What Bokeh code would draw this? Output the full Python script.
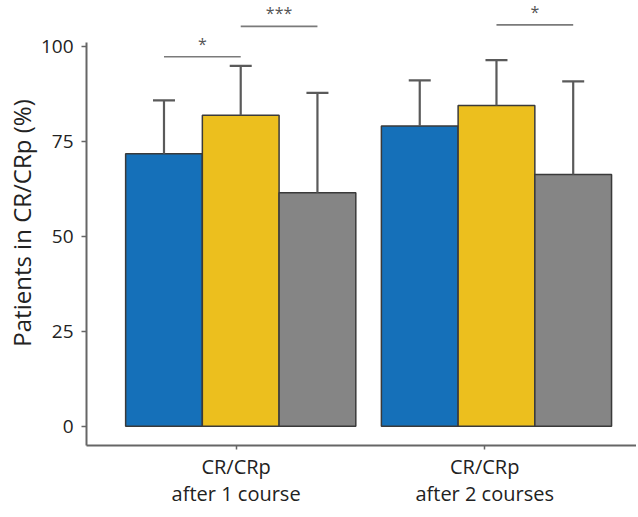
from bokeh.plotting import figure
from bokeh.models import ColumnDataSource, FixedTicker, Whisker, TeeHead, Range1d
from bokeh.core.properties import value
from bokeh.embed import file_html
from bokeh.resources import INLINE

# ---- data ----
group_labels = ["CR/CRp\nafter 1 course", "CR/CRp\nafter 2 courses"]
group_pos = [1, 2]
blue_vals = [71.7, 79.0]
yellow_vals = [81.8, 84.4]
gray_vals = [61.4, 66.2]
blue_upper = [85.7, 91.0]
yellow_upper = [94.8, 96.3]
gray_upper = [87.7, 90.7]
sig_group = [0, 0, 1]
sig_from = [0, 1, 1]
sig_to = [1, 2, 2]
sig_height = [97.2, 105.2, 105.6]
sig_text = ["*", "***", "*"]
y_ticks = [0, 25, 50, 75, 100]

# ---- layout constants ----
offsets = [-0.3, 0.0, 0.3]
bar_w = 0.3
tick_pos = [0.982, 1.954]
colors = ["#1570b9", "#ecbf1e", "#858585"]
FONT = "Open Sans"

p = figure(width=636, height=515, output_backend="svg", toolbar_location=None,
           x_range=Range1d(0.397, 2.5475), y_range=Range1d(-5.08, 112.0),
           min_border_left=86, min_border_right=0, min_border_top=0, min_border_bottom=70)
p.outline_line_color = None
p.xgrid.visible = False
p.ygrid.visible = False
p.background_fill_color = "white"
p.border_fill_color = "white"

series_vals = [blue_vals, yellow_vals, gray_vals]
series_upper = [blue_upper, yellow_upper, gray_upper]
for i, (vals, ups) in enumerate(zip(series_vals, series_upper)):
    xs = [g + offsets[i] for g in group_pos]
    src = ColumnDataSource(dict(x=xs, top=vals, upper=ups))
    p.vbar(x="x", top="top", bottom=0, width=bar_w, source=src,
           fill_color=colors[i], line_color="#3a3a3a", line_width=1.5)
    w = Whisker(base="x", lower="top", upper="upper", source=src,
                line_color="#5a5a5a", line_width=2.2, level="overlay",
                upper_head=TeeHead(size=22, line_color="#5a5a5a", line_width=2.2),
                lower_head=None)
    p.add_layout(w)

# significance lines
x0 = [group_pos[g] + offsets[a] for g, a in zip(sig_group, sig_from)]
x1 = [group_pos[g] + offsets[b] for g, b in zip(sig_group, sig_to)]
p.segment(x0=x0, x1=x1, y0=sig_height, y1=sig_height, line_color="#7a7a7a", line_width=1.6)
xm = [(a + b) / 2 for a, b in zip(x0, x1)]
p.text(x=xm, y=sig_height, text=sig_text, text_align="center", text_baseline="middle",
       y_offset=-13, text_font_size="16px", text_color="#555555", text_font=value(FONT))

# axes
yax = p.yaxis[0]
yax.ticker = FixedTicker(ticks=y_ticks)
yax.bounds = (-5.08, 101)
yax.axis_label = "Patients in CR/CRp (%)"
yax.axis_label_text_font = FONT
yax.axis_label_text_font_style = "normal"
yax.axis_label_text_font_size = "24px"
yax.axis_label_text_color = "#222222"
yax.axis_label_standoff = 0
yax.major_label_text_font = FONT
yax.major_label_text_font_size = "19px"
yax.major_label_text_color = "#222222"
yax.major_label_standoff = 8
yax.axis_line_color = "#666666"
yax.axis_line_width = 2
yax.major_tick_line_color = "#666666"
yax.major_tick_line_width = 1.5
yax.major_tick_out = 5
yax.major_tick_in = 0
yax.minor_tick_line_color = None

xax = p.xaxis[0]
xax.ticker = FixedTicker(ticks=tick_pos)
xax.major_label_overrides = {t: lab for t, lab in zip(tick_pos, group_labels)}
xax.major_label_text_font = FONT
xax.major_label_text_font_size = "20px"
xax.major_label_text_color = "#222222"
xax.major_label_text_line_height = 1.0
xax.major_label_standoff = 3
xax.axis_line_color = "#666666"
xax.axis_line_width = 2
xax.major_tick_line_color = "#666666"
xax.major_tick_line_width = 1.5
xax.major_tick_out = 4
xax.major_tick_in = 0
xax.minor_tick_line_color = None

open("out.html", "w").write(file_html(p, INLINE))
